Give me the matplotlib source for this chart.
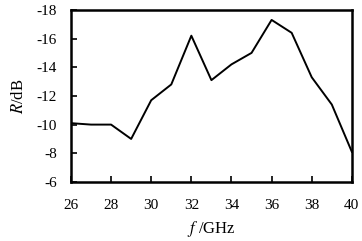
import matplotlib
matplotlib.use("Agg")
import matplotlib.pyplot as plt

freq = [26, 27, 28, 29, 30, 31, 32, 33, 34, 35, 36, 37, 38, 39, 40]
refl = [-10.1, -10.0, -10.0, -9.0, -11.7, -12.8, -16.2, -13.1, -14.2, -15.0, -17.3, -16.4, -13.3, -11.4, -8.1]
xticks = [26, 28, 30, 32, 34, 36, 38, 40]
yticks = [-6, -8, -10, -12, -14, -16, -18]

plt.rcParams["font.family"] = ["Liberation Serif", "DejaVu Serif"]
plt.rcParams["mathtext.fontset"] = "stix"
plt.rcParams["axes.unicode_minus"] = False

fig = plt.figure(figsize=(3.62, 2.41), dpi=100)
ax = fig.add_axes([0.196, 0.245, 0.776, 0.714])

ax.plot(freq, refl, color="black", linewidth=1.4)

ax.set_xlim(26, 40)
ax.set_ylim(-6, -18)
ax.set_xticks(xticks)
ax.set_yticks(yticks)
ax.tick_params(direction="in", length=4, width=1.2, labelsize=11, top=False, right=False)
ax.tick_params(axis="x", pad=12)
ax.tick_params(axis="y", pad=10)
for s in ax.spines.values():
    s.set_linewidth(1.8)

ax.set_xlabel("$f$ /GHz", fontsize=12, labelpad=5)
ax.set_ylabel("$R$/dB", fontsize=12, labelpad=7)

fig.savefig("out.png", dpi=100)
